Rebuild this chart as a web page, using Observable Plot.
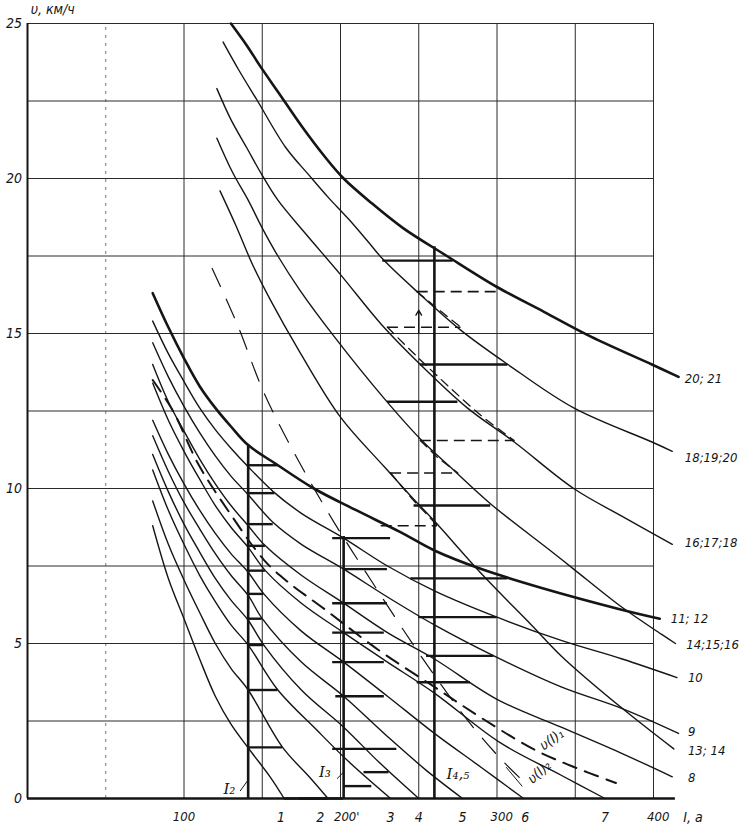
<!DOCTYPE html>
<html>
<head>
<meta charset="utf-8">
<script src="https://cdn.jsdelivr.net/npm/d3@7"></script>
<script src="https://cdn.jsdelivr.net/npm/@observablehq/plot@0.6"></script>
<style>
  html, body { margin: 0; padding: 0; background: #fff; }
  #chart svg { display: block; }
</style>
</head>
<body>
<div id="chart"></div>
<script>
// ---- grid / ticks ----
const gridI = [0, 50, 100, 150, 200, 250, 300, 350, 400];
const gridV = [0, 2.5, 5, 7.5, 10, 12.5, 15, 17.5, 20, 22.5, 25];
const yTickLabels = [[0, "0"], [5, "5"], [10, "10"], [15, "15"], [20, "20"], [25, "25"]];
const xTickLabels = [[100, "100"], [204, "200'"], [303, "300"], [403, "400"]];
const positionLabels = [[162, "1"], [187, "2"], [232, "3"], [250, "4"], [278, "5"], [318, "6"], [369, "7"]];

// ---- upper group of speed curves [I, v] ----
const curve20_21 = [[130,25],[140,24.3],[149,23.6],[160,22.8],[175,21.7],[190,20.7],[202,20.0],[220,19.2],[240,18.4],[268,17.5],[300,16.5],[330,15.7],[360,14.9],[399,14.0],[416,13.6]];
const curve18_20 = [[125,24.4],[135,23.5],[147,22.5],[165,21.0],[180,20.1],[192,19.4],[205,18.7],[217,18.0],[227,17.4],[250,16.3],[277,15.1],[307,14.0],[349,12.6],[399,11.5],[412,11.2]];
const curve16_18 = [[121,22.9],[130,21.9],[140,21.0],[150,20.1],[160,19.3],[178,18.2],[200,16.9],[226,15.3],[251,14.0],[281,12.6],[311,11.5],[349,10.0],[380,9.1],[412,8.2]];
const curve14_16 = [[121,21.3],[131,20.2],[141,19.3],[150,18.4],[160,17.5],[174,16.4],[196,14.9],[228,12.9],[251,11.6],[270,10.7],[296,9.5],[334,8.0],[349,7.4],[379,6.2],[405,5.3],[414,5.0]];
const curve13_14 = [[123,19.6],[133,18.5],[144,17.2],[155,16.1],[174,14.4],[200,12.3],[228,10.7],[245,9.75],[260,8.95],[291,7.2],[322,5.6],[341,4.6],[379,2.95],[413,1.6]];

// ---- lower group of speed curves [I, v] ----
const curve11_12 = [[80,16.3],[90,15.2],[100,14.2],[110,13.3],[120,12.6],[130,12.0],[141,11.4],[160,10.75],[183,10.0],[210,9.3],[238,8.6],[260,8.0],[290,7.4],[328,6.8],[379,6.1],[404,5.8]];
const curve10 = [[80,15.4],[90,14.35],[100,13.45],[110,12.6],[120,11.9],[130,11.3],[141,10.7],[157,9.9],[175,9.2],[202,8.4],[230,7.5],[260,6.7],[300,5.85],[341,5.1],[380,4.5],[415,3.9]];
const curve9 = [[80,14.7],[90,13.6],[100,12.65],[110,11.8],[120,11.05],[130,10.4],[141,9.8],[157,8.9],[175,8.2],[202,7.4],[230,6.5],[260,5.6],[298,4.6],[341,3.6],[380,2.9],[416,2.1]];
const curve8 = [[80,14.0],[90,12.8],[100,11.85],[110,10.95],[120,10.15],[130,9.45],[141,8.8],[152,8.15],[175,7.2],[202,6.3],[230,5.35],[260,4.5],[300,3.2],[341,2.3],[380,1.45],[412,0.7]];
const curve7 = [[80,13.4],[90,12.2],[100,11.2],[110,10.3],[120,9.45],[130,8.75],[141,8.1],[152,7.35],[175,6.3],[202,5.35],[230,4.4],[260,3.4],[302,1.8],[341,0.75],[369,0]];
const curve6 = [[80,12.2],[90,11.1],[100,10.15],[110,9.3],[120,8.55],[130,7.9],[141,7.3],[151,6.6],[175,5.4],[202,4.4],[230,3.3],[260,2.1],[290,1.0],[317,0]];
const curve5 = [[80,11.7],[90,10.55],[100,9.55],[110,8.7],[120,7.9],[130,7.2],[141,6.55],[150,5.8],[175,4.4],[202,3.3],[230,2.0],[255,0.9],[278,0]];
const curve4 = [[80,11.1],[90,9.9],[100,8.85],[110,7.95],[120,7.1],[130,6.4],[141,5.75],[151,4.95],[175,3.5],[202,2.3],[225,1.15],[250,0]];
const curve3 = [[80,10.6],[90,9.3],[100,8.2],[110,7.2],[120,6.35],[130,5.6],[141,4.95],[160,3.5],[185,2.2],[205,1.2],[232,0]];
const curve2 = [[80,9.6],[90,8.2],[100,7.05],[110,6.0],[120,5.0],[130,4.2],[141,3.5],[163,1.65],[180,0.7],[192,0]];
const curve1 = [[80,8.8],[90,7.1],[100,5.8],[110,4.5],[120,3.3],[130,2.4],[143,1.5],[155,0.7],[164,0]];

// ---- dashed characteristic curves ----
const vI1 = [[80,13.5],[93,12.5],[109,10.8],[128,9.3],[151,7.7],[166,7.0],[190,6.1],[224,4.8],[260,3.6],[290,2.6],[323,1.6],[345,1.1],[376,0.5]];
const vI2 = [[118,17.1],[134,15.3],[151,13.1],[172,11.0],[196,8.9],[220,7.0],[250,4.7],[280,2.6],[302,1.3],[318,0.5]];

// ---- switching currents (I, top speed) ----
const switchLines = [[141,11.4],[202,8.45],[260,17.8]];

// ---- thick steps [v, I from, I to] ----
const stepsI2 = [[10.75,141,160],[9.85,141,158],[8.85,141,157],[8.15,141,152],[7.35,141,152],[6.6,141,151],[5.8,141,150],[4.95,141,151],[3.5,141,160],[1.65,141,163],[0,164,192]];
const stepsI3 = [[8.4,195,232],[7.4,202,230],[6.3,195,230],[5.35,195,228],[4.4,195,228],[3.3,197,228],[1.6,195,236],[0.85,215,231],[0.4,202,220],[0,174,202]];
const stepsI45 = [[17.35,227,272],[14.0,251,307],[12.8,230,275],[9.45,247,296],[7.1,245,307],[5.85,250,300],[4.6,255,298],[3.75,249,283]];
// dashed steps [v, I from, I to]
const dashedSteps = [[16.35,249,302],[15.2,230,277],[11.55,251,311],[10.5,232,275],[8.8,226,262]];
const dashedRun1 = [[249,16.35],[262,15.8],[277,15.2]];
const dashedRun2 = [[230,15.2],[250,14.2],[270,13.25],[290,12.35],[311,11.55]];
const dashedRun3 = [[251,11.55],[262,11.0],[275,10.5]];
const dashedRun4 = [[232,10.5],[246,9.65],[262,8.8]];
const arrowMark = [[250,15.0,250,15.75]];

// ---- labels ----
const curveLabels = [["20; 21",420,13.55],["18;19;20",420,11.0],["16;17;18",420,8.25],["11; 12",411,5.8],["14;15;16",421,4.95],["10",422,3.9],["9",422,2.15],["13; 14",422,1.55],["8",422,0.68]];
const currentLabels = [["I₂",129,0.3],["I₃",190,0.85],["I₄,₅",275,0.8]];
const leaders = [[[136,0.25],[141,0.6]],[[198,0.65],[202,0.85]],[[306,1.0],[316,0.4]]];

const font = "'DejaVu Sans Condensed','Liberation Sans Narrow','DejaVu Sans',sans-serif";
const ink = "#151515";
const P = () => ({x: d => d[0], y: d => d[1]});

function solid(data, w) {
  return Plot.line(data, {...P(), curve: "catmull-rom", stroke: ink, strokeWidth: w});
}
function steps(data, w, dash) {
  return Plot.ruleY(data, {y: d => d[0], x1: d => d[1], x2: d => d[2], stroke: ink, strokeWidth: w, strokeDasharray: dash});
}

const chart = Plot.plot({
  width: 750,
  height: 833,
  marginLeft: 0, marginRight: 0, marginTop: 0, marginBottom: 0,
  x: {type: "linear", domain: [0, 400], range: [27, 653], axis: null},
  y: {type: "linear", domain: [0, 25], range: [798, 23], axis: null},
  style: {background: "#fff"},
  marks: [
    // grid
    Plot.ruleX(gridI.filter(d => d !== 50 && d !== 0), {x: d => d, y1: 0, y2: 25, stroke: "#2a2a2a", strokeWidth: 1}),
    Plot.ruleX([50], {x: d => d, y1: 0, y2: 25, stroke: "#777", strokeWidth: 1, strokeDasharray: "3,5"}),
    Plot.ruleY(gridV.filter(d => d !== 0), {y: d => d, x1: 0, x2: 400, stroke: "#2a2a2a", strokeWidth: 1}),
    // axes
    Plot.ruleX([0], {x: d => d, y1: 0, y2: 25, stroke: ink, strokeWidth: 2}),
    Plot.ruleY([0], {y: d => d, x1: 0, x2: 414, stroke: ink, strokeWidth: 2.4}),
    // curves, upper group
    solid(curve20_21, 2.6),
    solid(curve18_20, 1.4),
    solid(curve16_18, 1.4),
    solid(curve14_16, 1.4),
    solid(curve13_14, 1.4),
    // lower group
    solid(curve11_12, 2.6),
    solid(curve10, 1.4),
    solid(curve9, 1.4),
    solid(curve8, 1.4),
    solid(curve7, 1.4),
    solid(curve6, 1.4),
    solid(curve5, 1.4),
    solid(curve4, 1.4),
    solid(curve3, 1.4),
    solid(curve2, 1.4),
    solid(curve1, 1.4),
    // dashed characteristics
    Plot.line(vI1, {...P(), curve: "catmull-rom", stroke: ink, strokeWidth: 2, strokeDasharray: "14,9"}),
    Plot.line(vI2, {...P(), curve: "catmull-rom", stroke: ink, strokeWidth: 1.2, strokeDasharray: "20,14"}),
    // switching current verticals
    Plot.ruleX(switchLines, {x: d => d[0], y1: 0, y2: d => d[1], stroke: ink, strokeWidth: 2.6}),
    // steps
    steps(stepsI2, 2.4),
    steps(stepsI3, 2.4),
    steps(stepsI45, 2.4),
    steps(dashedSteps, 1.6, "11,6"),
    Plot.line(dashedRun1, {...P(), stroke: ink, strokeWidth: 1.3, strokeDasharray: "9,6"}),
    Plot.line(dashedRun2, {...P(), curve: "catmull-rom", stroke: ink, strokeWidth: 1.3, strokeDasharray: "9,6"}),
    Plot.line(dashedRun3, {...P(), stroke: ink, strokeWidth: 1.3, strokeDasharray: "9,6"}),
    Plot.line(dashedRun4, {...P(), stroke: ink, strokeWidth: 1.3, strokeDasharray: "9,6"}),
    Plot.arrow(arrowMark, {x1: d => d[0], y1: d => d[1], x2: d => d[2], y2: d => d[3], stroke: ink, strokeWidth: 1.4, headLength: 6}),
    // leaders
    ...leaders.map(l => Plot.line(l, {...P(), stroke: ink, strokeWidth: 1})),
    // text
    Plot.text(yTickLabels, {x: -3.5, y: d => d[0], text: d => d[1], textAnchor: "end", fontSize: 14, fontStyle: "italic", fontFamily: font, fill: ink}),
    Plot.text(xTickLabels, {x: d => d[0], y: -0.6, text: d => d[1], fontSize: 13, fontStyle: "italic", fontFamily: font, fill: ink}),
    Plot.text(positionLabels, {x: d => d[0], y: -0.6, text: d => d[1], fontSize: 14, fontStyle: "italic", fontFamily: font, fill: ink}),
    Plot.text(["I, a"], {x: 419, y: -0.6, text: d => d, textAnchor: "start", fontSize: 14, fontStyle: "italic", fontFamily: font, fill: ink}),
    Plot.text(["υ, км/ч"], {x: 2, y: 25.45, text: d => d, textAnchor: "start", fontSize: 14, fontStyle: "italic", fontFamily: font, fill: ink}),
    Plot.text(curveLabels, {x: d => d[1], y: d => d[2], text: d => d[0], textAnchor: "start", fontSize: 13, fontStyle: "italic", fontFamily: font, fill: ink}),
    Plot.text(currentLabels, {x: d => d[1], y: d => d[2], text: d => d[0], fontSize: 15, fontStyle: "italic", fontFamily: "'DejaVu Serif',serif", fill: ink}),
    Plot.text(["υ(I)₁"], {x: 335, y: 1.9, text: d => d, rotate: -35, fontSize: 14, fontStyle: "italic", fontFamily: font, fill: ink}),
    Plot.text(["υ(I)₂"], {x: 327, y: 0.85, text: d => d, rotate: -42, fontSize: 14, fontStyle: "italic", fontFamily: font, fill: ink})
  ]
});
document.getElementById("chart").appendChild(chart);
</script>
</body>
</html>
